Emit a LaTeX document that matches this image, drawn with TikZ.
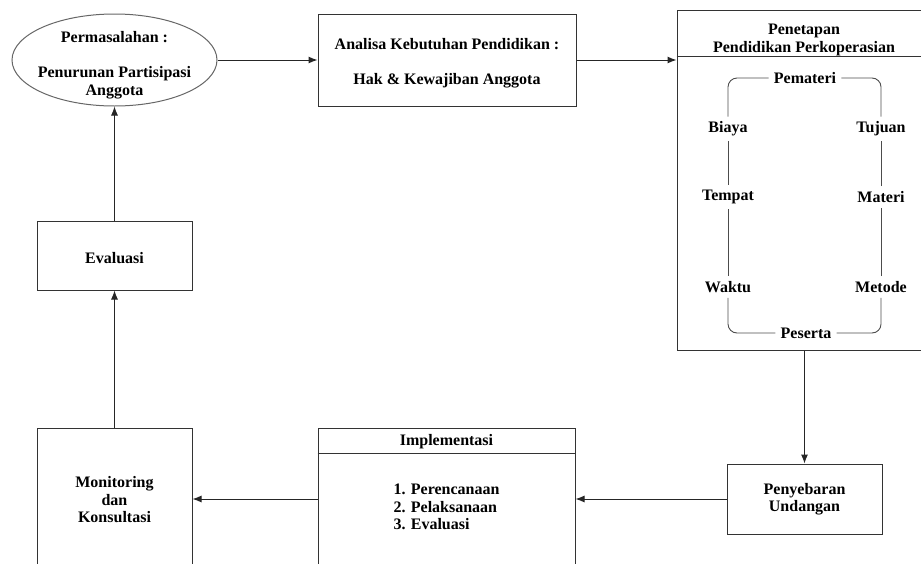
\documentclass[tikz,border=0pt]{standalone}
\usepackage{fontspec}
\setmainfont{Liberation Serif}
\usepackage{tikz}
\usetikzlibrary{shapes,arrows.meta}
\def\faktor#1#2#3{\node [faktor] (#1) at (#2) {#3}}
\tikzstyle{teks}=[font=\bfseries\fontsize{16}{17.5}\selectfont,align=center]
\tikzstyle{box}=[teks,draw=black!80,line width=1pt]
\tikzstyle{oval}=[box,ellipse,draw=black!60]
\tikzstyle{faktor}=[teks,inner sep=5pt]
\tikzstyle{keliling}=[draw=black!70,line width=0.9pt,rounded corners=9pt]
\tikzstyle{alur}=[draw=black!85,line width=1pt,-{Latex[length=9pt,width=7pt]}]

\begin{document}
\begin{tikzpicture}[x=1pt,y=-1pt]
    \useasboundingbox (0,0) rectangle (921,563);
    \clip (0,0) rectangle (921,563);
    % baris atas
    \node[oval,minimum width=205,minimum height=92] (masalah) at (114.5,60) {};
    \node[teks] (masalahteks) at (114.5,65) {Permasalahan :\\[17.5pt]Penurunan Partisipasi\\Anggota};
    \node[box,minimum width=258,minimum height=92] (analisa) at (447,60) {};
    \node[teks] (analisateks) at (447,63.5) {Analisa Kebutuhan Pendidikan :\\[17.5pt]Hak \& Kewajiban Anggota};
    \node[box,minimum width=280,minimum height=340] (penetapan) at (817,180) {};
    \node[teks] (penetapanjudul) at (804,40) {Penetapan\\Pendidikan Perkoperasian};
    \draw[box] ([yshift=-47pt]penetapan.north west) -- ([yshift=-47pt]penetapan.north east);
    % isi penetapan
    \faktor{pemateri}{805,78}{Pemateri};
    \faktor{biaya}{728,129}{Biaya};
    \faktor{tujuan}{881,129}{Tujuan};
    \faktor{tempat}{728,197}{Tempat};
    \faktor{materi}{881,197}{Materi};
    \faktor{waktu}{728,287}{Waktu};
    \faktor{metode}{881,287}{Metode};
    \faktor{peserta}{806,333}{Peserta};
    \draw[keliling] (pemateri.west) -| (biaya.north);
    \draw[keliling] (biaya.south) -- (tempat.north);
    \draw[keliling] (tempat.south) -- (waktu.north);
    \draw[keliling] (waktu.south) |- (peserta.west);
    \draw[keliling] (peserta.east) -| (metode.south);
    \draw[keliling] (metode.north) -- (materi.south);
    \draw[keliling] (materi.north) -- (tujuan.south);
    \draw[keliling] (tujuan.north) |- (pemateri.east);
    % kiri dan bawah
    \node[box,minimum width=155,minimum height=69] (evaluasi) at (114.5,255.5) {};
    \node[teks] (evaluasiteks) at (114.5,258.5) {Evaluasi};
    \node[box,minimum width=155,minimum height=144] (monitoring) at (114.5,500) {Monitoring\\dan\\Konsultasi};
    \node[box,minimum width=257,minimum height=144] (implementasi) at (446.5,500) {};
    \node[teks] (implementasijudul) at (446.5,442) {Implementasi};
    \draw[box] ([yshift=-26pt]implementasi.north west) -- ([yshift=-26pt]implementasi.north east);
    \node[teks,align=left] (implementasiisi) at (446.5,507) {1. Perencanaan\\2. Pelaksanaan\\3. Evaluasi};
    \node[box,minimum width=155,minimum height=70] (penyebaran) at (804.5,499) {Penyebaran\\Undangan};
    % alur
    \draw[alur] (masalah.east) -- (analisa.west);
    \draw[alur] (analisa.east) -- (penetapan.west |- analisa.east);
    \draw[alur] (penetapan.south -| penyebaran.north) -- (penyebaran.north);
    \draw[alur] (penyebaran.west) -- (implementasi.east |- penyebaran.west);
    \draw[alur] (implementasi.west |- penyebaran.west) -- (monitoring.east |- penyebaran.west);
    \draw[alur] (monitoring.north) -- (evaluasi.south);
    \draw[alur] (evaluasi.north) -- (masalah.south);
\end{tikzpicture}
\end{document}
